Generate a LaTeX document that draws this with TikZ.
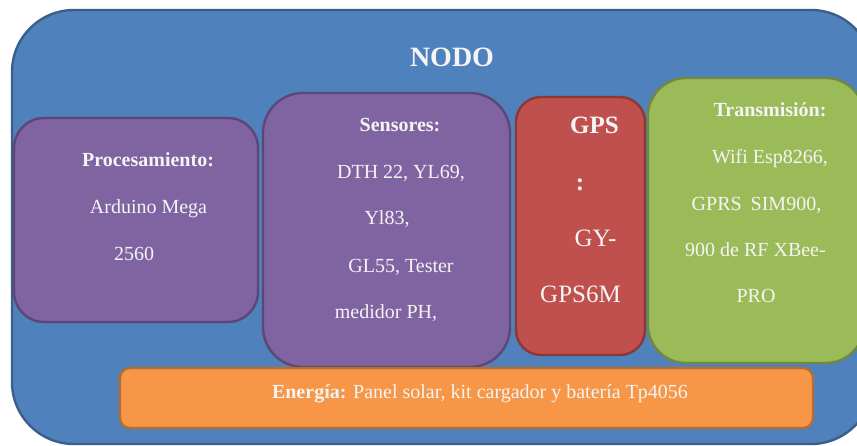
\documentclass[tikz,border=0pt]{standalone}
\usepackage{fontspec}
\setmainfont{Liberation Serif}
\definecolor{bluefill}{HTML}{4F81BD}
\definecolor{blueline}{HTML}{3A5F8B}
\definecolor{purplefill}{HTML}{8064A2}
\definecolor{purpleline}{HTML}{5C4776}
\definecolor{redfill}{HTML}{C0504D}
\definecolor{redline}{HTML}{8C3836}
\definecolor{greenfill}{HTML}{9BBB59}
\definecolor{greenline}{HTML}{71893F}
\definecolor{orangefill}{HTML}{F79646}
\definecolor{orangeline}{HTML}{B66D31}
\definecolor{txt}{HTML}{F4F4F4}
\begin{document}
\begin{tikzpicture}[x=1pt,y=-1pt,
  panel/.style={draw, line width=2.4pt, inner sep=0pt, outer sep=0pt},
  lbl/.style={text=txt, inner sep=0pt, anchor=base, font=\fontsize{20}{24}\selectfont},
  hdr/.style={lbl, font=\fontsize{20}{24}\selectfont\bfseries},
  big/.style={lbl, font=\fontsize{25}{30}\selectfont},
  bigb/.style={lbl, font=\fontsize{25}{30}\selectfont\bfseries}]
\useasboundingbox (0,0) rectangle (857,446);
\clip (0,0) rectangle (857,446);
% boxes
\node[panel, fill=bluefill, draw=blueline, rounded corners=62pt,
  minimum width=861pt, minimum height=434pt] (nodo) at (442.5,227) {};
\node[panel, fill=purplefill, draw=purpleline, rounded corners=30pt,
  minimum width=244pt, minimum height=204pt] (proc) at (136,220) {};
\node[panel, fill=purplefill, draw=purpleline, rounded corners=40pt,
  minimum width=247pt, minimum height=274pt] (sens) at (386.5,230) {};
\node[panel, fill=redfill, draw=redline, rounded corners=25pt,
  minimum width=129pt, minimum height=258pt] (gps) at (580.5,226) {};
\node[panel, fill=greenfill, draw=greenline, rounded corners=38pt,
  minimum width=216pt, minimum height=285pt] (trans) at (756,220.5) {};
\node[panel, fill=orangefill, draw=orangeline, rounded corners=10pt,
  minimum width=693pt, minimum height=60pt] (ener) at (466.5,398) {};
% texts
\node[lbl, font=\fontsize{28}{32}\selectfont\bfseries] (tnodo) at (452,67) {NODO};
\node[hdr] (tproc) at (148,167) {Procesamiento:};
\node[lbl] (tproc1) at (148.5,214) {Arduino Mega};
\node[lbl] (tproc2) at (134,261) {2560};
\node[hdr] (tsens) at (400,132) {Sensores:};
\node[lbl] (tsens1) at (401,179) {DTH 22, YL69,};
\node[lbl] (tsens2) at (387,225) {Yl83,};
\node[lbl] (tsens3) at (401,273) {GL55, Tester};
\node[lbl] (tsens4) at (386,319) {medidor PH,};
\node[bigb] (tgps) at (594.5,134) {GPS};
\node[bigb] (tgps1) at (580,191) {:};
\node[big] (tgps2) at (595.5,247) {GY-};
\node[big] (tgps3) at (580.5,303) {GPS6M};
\node[hdr] (ttrans) at (770,117) {Transmisión:};
\node[lbl] (ttrans1) at (770,164) {Wifi Esp8266,};
\node[lbl] (ttrans2) at (756.5,211) {GPRS\hspace{0.45em}SIM900,};
\node[lbl] (ttrans3) at (755.5,257) {900 de RF XBee-};
\node[lbl] (ttrans4) at (756,303) {PRO};
\node[lbl] (tener) at (480,398) {\textbf{Energía:} Panel solar, kit cargador y batería Tp4056};
\end{tikzpicture}
\end{document}
